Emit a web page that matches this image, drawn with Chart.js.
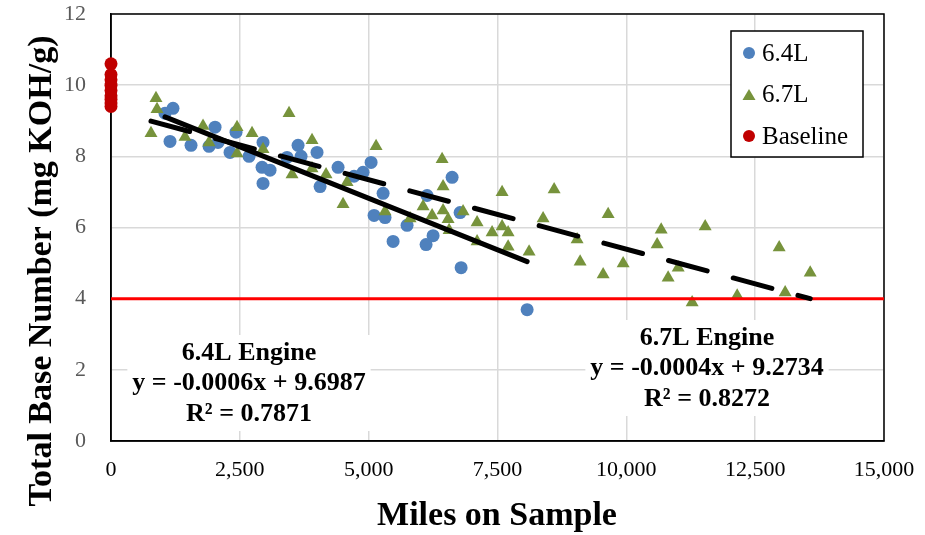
<!DOCTYPE html>
<html>
<head>
<meta charset="utf-8">
<script src="https://cdn.jsdelivr.net/npm/chart.js@4.4.1/dist/chart.umd.min.js"></script>
<style>
  body { margin: 0; background: #fff; }
  #wrap { width: 925px; height: 535px; }
</style>
</head>
<body>
<div id="wrap"><canvas id="tbnChart" width="925" height="535"></canvas></div>
<script>
// 6.4L engine samples
const miles64 = [1203, 1048, 1145, 1553, 1902, 2019, 2077, 2426, 2310, 2679, 2950, 2931, 3086, 2950, 3416, 3630, 3688, 3998,
  4057, 4406, 4717, 4891, 5047, 5280, 5105, 5318, 5745, 5474, 6134, 6619, 6774, 6250, 6114, 6794, 8075];
const tbn64 = [9.35, 9.21, 8.42, 8.31, 8.28, 8.82, 8.39, 8.68, 8.11, 8.00, 8.39, 7.69, 7.61, 7.24, 7.97, 8.31, 8.00, 8.11,
  7.15, 7.69, 7.44, 7.55, 7.83, 6.96, 6.34, 6.28, 6.06, 5.61, 6.90, 7.41, 6.42, 5.77, 5.52, 4.87, 3.69];

// 6.7L engine samples
const miles67 = [873, 893, 776, 1436, 1786, 1902, 2446, 2737, 2446, 3455, 2950, 3513, 3901, 3901, 4173, 4503, 4581, 5144,
  5318, 5804, 6056, 6231, 6425, 6444, 6444, 6541, 6561, 6832, 7104, 7104, 7395, 7589, 7589, 7706, 7706, 8113, 8599, 8385,
  9045, 9103, 9647, 9550, 9938, 10676, 10598, 11006, 10811, 11277, 11530, 12151, 12966, 13082, 13568];
const tbn67 = [9.63, 9.32, 8.65, 8.54, 8.85, 8.39, 8.82, 8.65, 8.08, 9.21, 8.20, 7.49, 8.45, 7.66, 7.49, 6.65, 7.27, 8.28,
  6.45, 6.25, 6.59, 6.34, 7.92, 7.15, 6.48, 6.23, 5.92, 6.45, 6.14, 5.61, 5.86, 6.99, 6.03, 5.86, 5.46, 5.32, 7.07, 6.25,
  5.66, 5.04, 6.37, 4.68, 4.99, 5.94, 5.52, 4.87, 4.59, 3.89, 6.03, 4.08, 5.44, 4.17, 4.73];

// new oil, 0 miles
const baselineTbn = [10.6, 10.3, 10.15, 10.0, 9.85, 9.7, 9.6, 9.5, 9.4];

// trendline end points
const trend64 = [[1048, 9.11], [8075, 5.04]];
const trend67 = [[776, 8.99], [13568, 4.0]];
const limitLine = [[0, 4], [15000, 4]];

const xTicks = [0, 2500, 5000, 7500, 10000, 12500, 15000];

const notes = [
  { x: 249, y: 353, lines: ["6.4L Engine", "y = -0.0006x + 9.6987", "R\u00b2 = 0.7871"] },
  { x: 707, y: 338, lines: ["6.7L Engine", "y = -0.0004x + 9.2734", "R\u00b2 = 0.8272"] },
];

const FONT = "'Liberation Serif', 'Times New Roman', serif";
const toXY = (xs, ys) => xs.map((x, i) => ({ x, y: ys[i] }));
const pairs = arr => arr.map(p => ({ x: p[0], y: p[1] }));

// frame around the plot + white boxes for the equations
const framePlugin = {
  id: "frame",
  beforeDatasetsDraw(chart) {
    const { ctx, chartArea: a } = chart;
    ctx.save();
    ctx.strokeStyle = "#000";
    ctx.lineWidth = 1.5;
    ctx.strokeRect(a.left, a.top, a.right - a.left, a.bottom - a.top);

    ctx.font = "bold 26px " + FONT;
    ctx.textAlign = "center";
    ctx.textBaseline = "middle";
    notes.forEach(n => {
      const w = Math.max(...n.lines.map(l => ctx.measureText(l).width)) + 10;
      ctx.fillStyle = "#fff";
      ctx.fillRect(n.x - w / 2, n.y - 18, w, 30 * n.lines.length + 6);
      ctx.fillStyle = "#000";
      n.lines.forEach((l, i) => ctx.fillText(l, n.x, n.y + i * 30.5));
    });
    ctx.restore();
  },
};

// axis titles and boxed legend
const labelPlugin = {
  id: "labels",
  afterDraw(chart) {
    const { ctx } = chart;
    ctx.save();
    ctx.fillStyle = "#000";
    ctx.textAlign = "center";
    ctx.textBaseline = "middle";
    ctx.font = "bold 34px " + FONT;
    ctx.fillText("Miles on Sample", 497, 516);
    ctx.translate(42, 271);
    ctx.rotate(-Math.PI / 2);
    ctx.fillText("Total Base Number (mg KOH/g)", 0, 0);
    ctx.restore();

    // legend
    ctx.save();
    ctx.fillStyle = "#fff";
    ctx.fillRect(731, 31, 132, 126);
    ctx.strokeStyle = "#000";
    ctx.lineWidth = 1.5;
    ctx.strokeRect(731, 31, 132, 126);
    ctx.font = "25px " + FONT;
    ctx.textAlign = "left";
    ctx.textBaseline = "middle";
    const rows = chart.data.datasets.filter(d => d.inLegend);
    rows.forEach((d, i) => {
      const y = 53 + i * 41.5;
      ctx.fillStyle = d.backgroundColor;
      ctx.beginPath();
      if (d.pointStyle === "triangle") {
        ctx.moveTo(749, y - 5.5); ctx.lineTo(755.5, y + 5.5); ctx.lineTo(742.5, y + 5.5);
      } else {
        ctx.arc(749, y, 6, 0, Math.PI * 2);
      }
      ctx.fill();
      ctx.fillStyle = "#000";
      ctx.fillText(d.label, 762, y + 1);
    });
    ctx.restore();
  },
};

new Chart(document.getElementById("tbnChart"), {
  type: "scatter",
  data: {
    datasets: [
      {
        label: "6.4L trend", type: "line", data: pairs(trend64), order: 0,
        borderColor: "#000", borderWidth: 5, borderCapStyle: "round", pointRadius: 0, fill: false,
      },
      {
        label: "6.7L trend", type: "line", data: pairs(trend67), order: 0,
        borderColor: "#000", borderWidth: 5, borderCapStyle: "round", borderDash: [40, 27], pointRadius: 0, fill: false,
      },
      {
        label: "limit", type: "line", data: pairs(limitLine), order: 1,
        borderColor: "#ff0000", borderWidth: 3, pointRadius: 0, fill: false,
      },
      {
        label: "6.4L", data: toXY(miles64, tbn64), inLegend: true, order: 3,
        pointStyle: "circle", pointRadius: 6.5, backgroundColor: "#4f81bd", borderWidth: 0,
      },
      {
        label: "6.7L", data: toXY(miles67, tbn67), inLegend: true, order: 2,
        pointStyle: "triangle", pointRadius: 7.5, backgroundColor: "#77933c", borderWidth: 0,
      },
      {
        label: "Baseline", data: baselineTbn.map(y => ({ x: 0, y })), inLegend: true, order: 2, clip: false,
        pointStyle: "circle", pointRadius: 6.5, backgroundColor: "#c00000", borderWidth: 0,
      },
    ],
  },
  options: {
    responsive: false,
    animation: false,
    events: [],
    layout: { autoPadding: false, padding: { top: 14, right: 41, left: 0, bottom: 0 } },
    plugins: { legend: { display: false }, tooltip: { enabled: false } },
    scales: {
      x: {
        type: "linear", min: 0, max: 15000,
        afterBuildTicks: s => { s.ticks = xTicks.map(v => ({ value: v })); },
        afterFit: s => { s.height = 94; s.paddingLeft = 0; s.paddingRight = 0; },
        grid: { color: "#d9d9d9", lineWidth: 1.5, drawTicks: false },
        border: { color: "#000", width: 1.5 },
        ticks: {
          padding: 16, color: "#000", font: { family: FONT, size: 22 },
          callback: v => v.toLocaleString("en-US"),
        },
      },
      y: {
        min: 0, max: 12,
        afterFit: s => { s.width = 111; s.paddingTop = 0; s.paddingBottom = 0; },
        grid: { color: "#d9d9d9", lineWidth: 1.5, drawTicks: false },
        border: { color: "#000", width: 1.5 },
        ticks: { stepSize: 2, padding: 25, color: "#595959", font: { family: FONT, size: 22 } },
      },
    },
  },
  plugins: [framePlugin, labelPlugin],
});
</script>
</body>
</html>
